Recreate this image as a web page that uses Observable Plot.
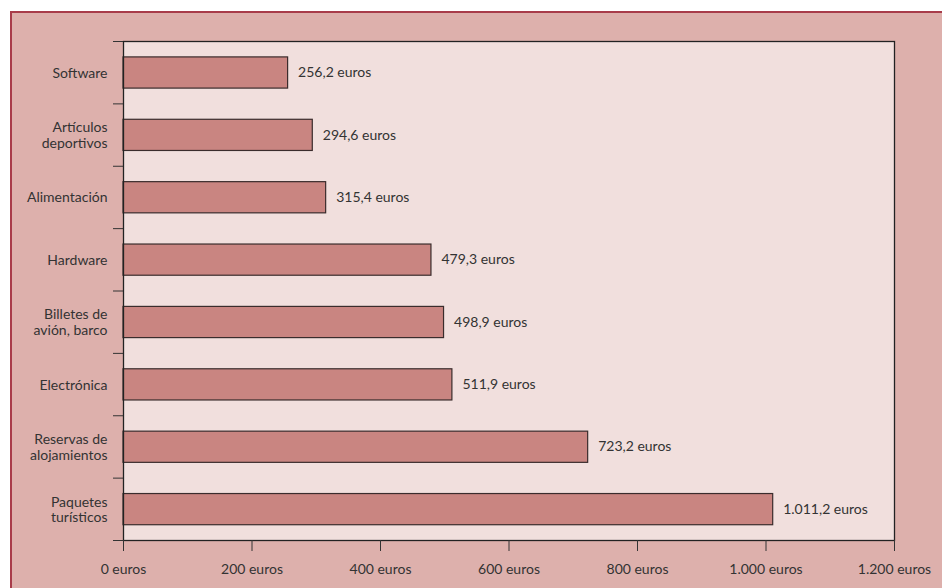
<!DOCTYPE html>
<html>
<head>
<meta charset="utf-8">
<script src="https://cdn.jsdelivr.net/npm/d3@7"></script>
<script src="https://cdn.jsdelivr.net/npm/@observablehq/plot@0.6"></script>
<style>
  html, body { margin: 0; padding: 0; background: #ffffff; width: 942px; height: 588px; overflow: hidden; }
  #panel {
    position: absolute; left: 10px; top: 11px; right: 0; bottom: 0;
    background: #ddb0ac;
    border-top: 2px solid #a83c4a;
    border-left: 2px solid #a83c4a;
  }
  #panel svg { display: block; }
</style>
</head>
<body>
<div id="panel"></div>
<script>
const categories = [
  "Software",
  "Artículos\ndeportivos",
  "Alimentación",
  "Hardware",
  "Billetes de\navión, barco",
  "Electrónica",
  "Reservas de\nalojamientos",
  "Paquetes\nturísticos"
];
const values = [256.2, 294.6, 315.4, 479.3, 498.9, 511.9, 723.2, 1011.2];
const xTicks = [0, 200, 400, 600, 800, 1000, 1200];

const locale = d3.formatLocale({decimal: ",", thousands: ".", grouping: [3], currency: ["", ""]});
const fmt1 = locale.format(",.1f");
const fmt0 = locale.format(",.0f");

const data = categories.map((c, i) => ({category: c, value: values[i], i}));
const boundaries = d3.range(categories.length + 1);
const centers = categories.map((c, i) => i + 0.5);

const chart = Plot.plot({
  width: 930,
  height: 575,
  marginLeft: 111,
  marginTop: 28,
  marginRight: 48,
  marginBottom: 48,
  style: {fontFamily: "Lato, sans-serif", fontSize: "14px", color: "#333", background: "transparent"},
  x: {domain: [0, 1200]},
  y: {domain: [0, categories.length], reverse: true},
  marks: [
    Plot.frame({fill: "#f1dfdd", stroke: "none"}),
    Plot.rectX(data, {
      x1: 0, x2: "value",
      y1: d => d.i + 0.255, y2: d => d.i + 0.755,
      fill: "#c98581", stroke: "#3a2c2c", strokeWidth: 1.2
    }),
    Plot.text(data, {
      x: "value", y: d => d.i + 0.5,
      text: d => fmt1(d.value) + " euros",
      textAnchor: "start", dx: 10, fill: "#333", fontSize: 14
    }),
    Plot.frame({stroke: "#222", strokeWidth: 1.3}),
    Plot.axisX({
      ticks: xTicks, tickSize: 11, tickPadding: 13,
      tickFormat: d => fmt0(d) + " euros",
      stroke: "#333", fill: "#333", label: null, fontSize: 14
    }),
    Plot.axisY({
      ticks: boundaries, tickSize: 10, tickFormat: () => "",
      stroke: "#333", label: null
    }),
    Plot.axisY({
      ticks: centers, tickSize: 0, tickPadding: 16,
      tickFormat: v => categories[Math.round(v - 0.5)],
      fill: "#333", label: null, lineHeight: 1.1, fontSize: 14
    })
  ]
});
document.getElementById("panel").appendChild(chart);
</script>
</body>
</html>
